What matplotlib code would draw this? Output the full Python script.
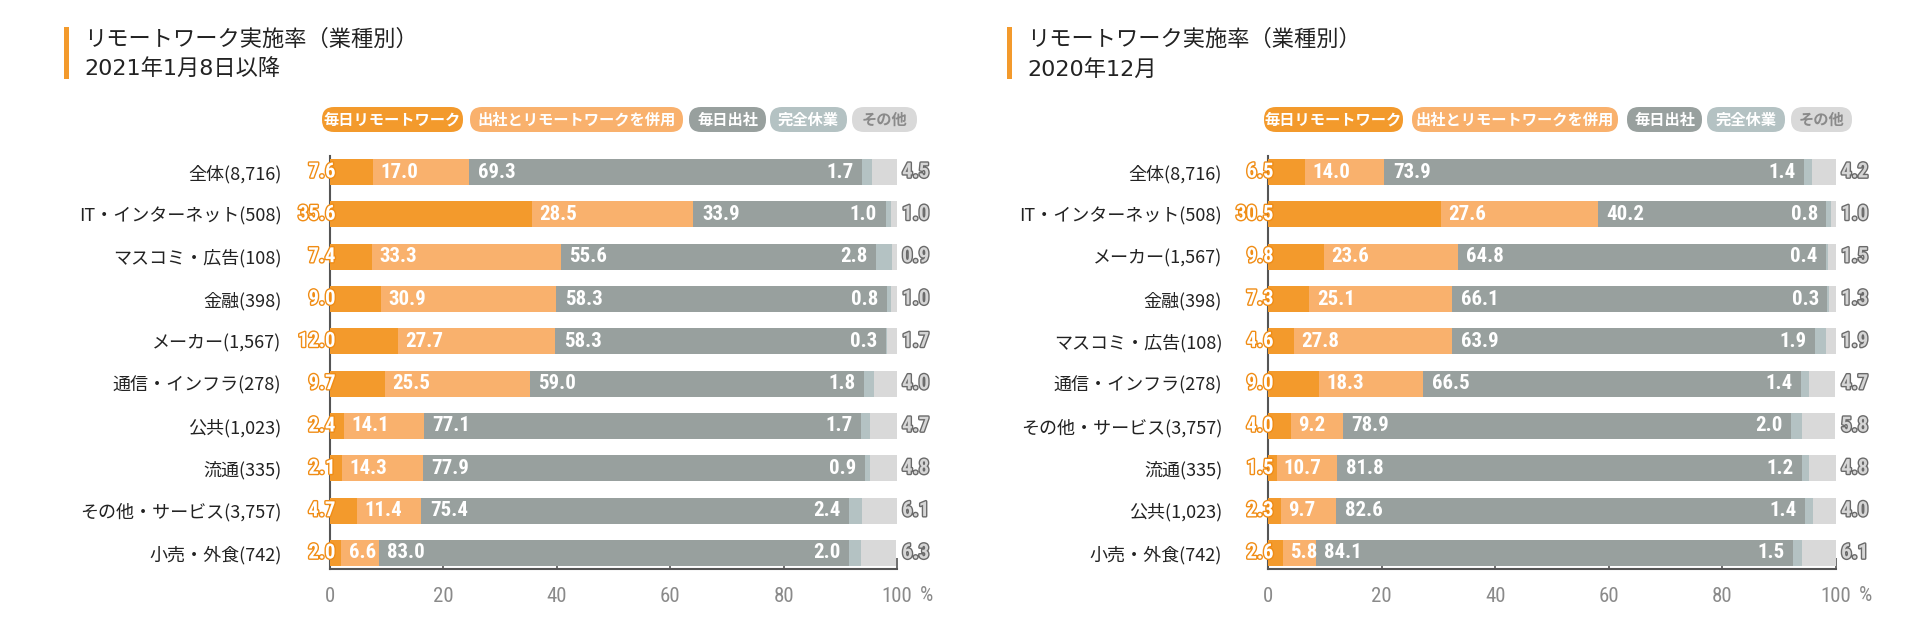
import matplotlib
matplotlib.use('Agg')
import matplotlib.pyplot as plt
import matplotlib.patheffects as pe
from matplotlib.patches import FancyBboxPatch, Rectangle
from matplotlib import font_manager as fm
import numpy as np

plt.rcParams['font.family'] = ['Noto Sans CJK JP', 'DejaVu Sans']

# ---- data ----
series_names = ['毎日リモートワーク', '出社とリモートワークを併用', '毎日出社', '完全休業', 'その他']

cats_2021 = ['全体(8,716)', 'IT・インターネット(508)', 'マスコミ・広告(108)', '金融(398)',
             'メーカー(1,567)', '通信・インフラ(278)', '公共(1,023)', '流通(335)',
             'その他・サービス(3,757)', '小売・外食(742)']
remote_2021 = [7.6, 35.6, 7.4, 9.0, 12.0, 9.7, 2.4, 2.1, 4.7, 2.0]
hybrid_2021 = [17.0, 28.5, 33.3, 30.9, 27.7, 25.5, 14.1, 14.3, 11.4, 6.6]
office_2021 = [69.3, 33.9, 55.6, 58.3, 58.3, 59.0, 77.1, 77.9, 75.4, 83.0]
leave_2021 = [1.7, 1.0, 2.8, 0.8, 0.3, 1.8, 1.7, 0.9, 2.4, 2.0]
other_2021 = [4.5, 1.0, 0.9, 1.0, 1.7, 4.0, 4.7, 4.8, 6.1, 6.3]

cats_2020 = ['全体(8,716)', 'IT・インターネット(508)', 'メーカー(1,567)', '金融(398)',
             'マスコミ・広告(108)', '通信・インフラ(278)', 'その他・サービス(3,757)',
             '流通(335)', '公共(1,023)', '小売・外食(742)']
remote_2020 = [6.5, 30.5, 9.8, 7.3, 4.6, 9.0, 4.0, 1.5, 2.3, 2.6]
hybrid_2020 = [14.0, 27.6, 23.6, 25.1, 27.8, 18.3, 9.2, 10.7, 9.7, 5.8]
office_2020 = [73.9, 40.2, 64.8, 66.1, 63.9, 66.5, 78.9, 81.8, 82.6, 84.1]
leave_2020 = [1.4, 0.8, 0.4, 0.3, 1.9, 1.4, 2.0, 1.2, 1.4, 1.5]
other_2020 = [4.2, 1.0, 1.5, 1.3, 1.9, 4.7, 5.8, 4.8, 4.0, 6.1]

xticks = [0, 20, 40, 60, 80, 100]

titles = [('リモートワーク実施率（業種別）', '2021年1月8日以降'),
          ('リモートワーク実施率（業種別）', '2020年12月')]

colors = ['#F39A2C', '#F9B16D', '#98A09E', '#B4C2C3', '#D9D9D9']


# numbers in the reference use a condensed face; use one if it is installed
def pick_number_font():
    narrow = []
    for f in fm.fontManager.ttflist:
        st = str(f.stretch).lower()
        if 'condensed' in st or 'narrow' in f.name.lower() or 'condensed' in f.name.lower():
            narrow.append(f.name)
    for pref in ['Roboto Condensed', 'Liberation Sans Narrow', 'DejaVu Sans', 'Noto Sans', 'Open Sans']:
        if pref in narrow:
            return pref, 'condensed', 15
    if narrow:
        return narrow[0], 'condensed', 15
    return 'Liberation Sans', 'normal', 13


num_family, num_stretch, num_size = pick_number_font()
num_kw = dict(family=[num_family, 'DejaVu Sans'], fontstretch=num_stretch)

W, H = 1920, 636
fig = plt.figure(figsize=(W / 100, H / 100), dpi=100)
fig.patch.set_facecolor('white')


def draw_panel(rect, cats, remote, hybrid, office, leave, other, label_pad):
    ax = fig.add_axes(rect)
    n = len(cats)
    y = np.arange(n)
    bh = 0.61
    vals = [np.array(remote), np.array(hybrid), np.array(office),
            np.array(leave), np.array(other)]
    left = np.zeros(n)
    for v, c in zip(vals, colors):
        ax.barh(y, v, left=left, height=bh, color=c, edgecolor='none', zorder=2)
        left = left + v

    stroke_or = [pe.withStroke(linewidth=2.0, foreground='#F08C14')]
    stroke_gr = [pe.withStroke(linewidth=2.0, foreground='#6A6A6A')]
    kw = dict(fontsize=num_size, fontweight='bold', va='center', zorder=5, **num_kw)
    for i in range(n):
        r, h, o, l = remote[i], hybrid[i], office[i], leave[i]
        ax.text(1.0, i, f'{r:.1f}', ha='right', color='white',
                path_effects=stroke_or, clip_on=False, **kw)
        ax.text(r + 1.3, i, f'{h:.1f}', ha='left', color='white', **kw)
        ax.text(r + h + 1.5, i, f'{o:.1f}', ha='left', color='white', **kw)
        ax.text(r + h + o - 1.5, i, f'{l:.1f}', ha='right', color='white', **kw)
        ax.text(100.9, i, f'{other[i]:.1f}', ha='left', color='#D6D6D6',
                path_effects=stroke_gr, clip_on=False, **kw)

    ax.set_xlim(0, 100)
    ax.set_ylim(n - 1 + 0.378, -0.378)
    ax.set_yticks(y)
    ax.set_yticklabels(cats, fontsize=13, color='#222222')
    ax.tick_params(axis='y', length=0, pad=label_pad)
    ax.set_xticks(xticks)
    ax.set_xticklabels([str(t) for t in xticks], fontsize=num_size,
                       color='#8A8A8A', **num_kw)
    ax.tick_params(axis='x', direction='in', length=8, width=1.2,
                   color='#555555', pad=13)
    for s in ['top', 'right']:
        ax.spines[s].set_visible(False)
    for s in ['left', 'bottom']:
        ax.spines[s].set_color('#555555')
        ax.spines[s].set_linewidth(1.5)
        ax.spines[s].set_zorder(1)
    ax.text(104, -0.041, '%', transform=ax.get_xaxis_transform(),
            fontsize=num_size, color='#8A8A8A', ha='left', va='top', **num_kw)
    return ax


def frac_rect(x0, x1, ytop, ybot):
    return [x0 / W, 1 - ybot / H, (x1 - x0) / W, (ybot - ytop) / H]


draw_panel(frac_rect(330, 897, 156, 569), cats_2021, remote_2021, hybrid_2021,
           office_2021, leave_2021, other_2021, 35)
draw_panel(frac_rect(1268, 1836, 156, 569), cats_2020, remote_2020, hybrid_2020,
           office_2020, leave_2020, other_2020, 33)

# overlay for titles and legend pills
ov = fig.add_axes([0, 0, 1, 1], zorder=-1)
ov.set_xlim(0, W)
ov.set_ylim(H, 0)
ov.axis('off')

title_x = [64, 1007]
pill_spans = [[(322, 463), (470, 683), (689, 766), (770, 847), (852, 917)],
              [(1264, 1403), (1412, 1618), (1627, 1702), (1707, 1785), (1791, 1852)]]
text_cols = ['white', 'white', 'white', 'white', '#8A8A8A']

for k in range(2):
    tx = title_x[k]
    ov.add_patch(Rectangle((tx, 27), 5, 52, color='#F39A2C', lw=0))
    ov.text(tx + 20, 39, titles[k][0], fontsize=16, color='#222222', va='center', ha='left')
    ov.text(tx + 20, 69, titles[k][1], fontsize=16, color='#222222', va='center', ha='left',
            family=['DejaVu Sans', 'Noto Sans CJK JP'])
    for (a, b), name, c, tc in zip(pill_spans[k], series_names, colors, text_cols):
        ov.add_patch(FancyBboxPatch((a, 107), b - a, 25,
                                    boxstyle='round,pad=0,rounding_size=12',
                                    fc=c, ec='none'))
        ov.text((a + b) / 2, 119.5, name, fontsize=11, fontweight='bold',
                color=tc, ha='center', va='center')

fig.savefig('out.png', dpi=100, facecolor='white')
